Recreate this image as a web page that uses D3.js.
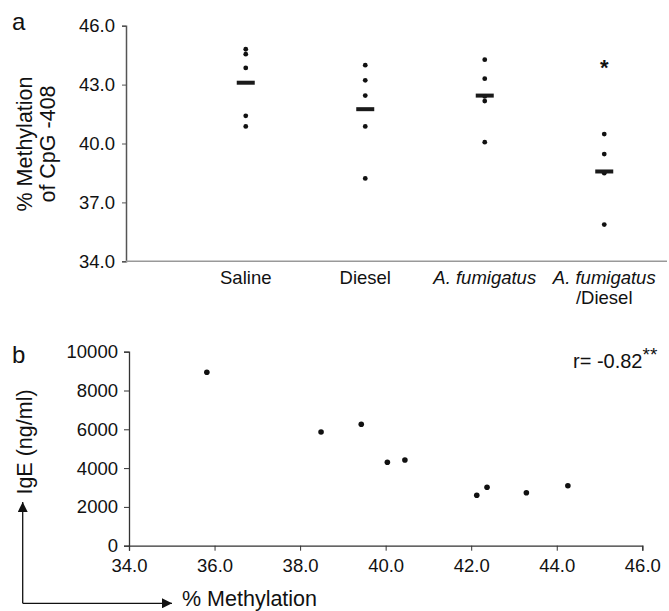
<!DOCTYPE html>
<html>
<head>
<meta charset="utf-8">
<script src="https://cdn.jsdelivr.net/npm/d3@7"></script>
<style>
  body { margin: 0; background: #fff; }
  svg { font-family: "Liberation Sans", Arial, sans-serif; display: block; }
</style>
</head>
<body>
<div id="chart"></div>
<script>
// panel a: % methylation of CpG -408 per treatment group
const groups = ['Saline', 'Diesel', 'A. fumigatus', 'A. fumigatus/Diesel'];
const saline = [44.80, 44.55, 43.85, 41.41, 40.87];
const diesel = [43.99, 43.22, 42.44, 40.87, 38.22];
const afum = [44.27, 43.30, 42.40, 42.16, 40.07];
const afumDiesel = [40.48, 39.46, 38.49, 35.87];
const methTicksA = [34, 37, 40, 43, 46];

// panel b: IgE vs % methylation
const methylation = [35.82, 38.49, 39.43, 40.04, 40.45, 42.13, 42.37, 43.29, 44.26];
const ige = [8940, 5860, 6260, 4300, 4420, 2600, 3010, 2730, 3090];
const igeTicks = [0, 2000, 4000, 6000, 8000, 10000];
const methTicksB = [34, 36, 38, 40, 42, 44, 46];

const groupValues = [saline, diesel, afum, afumDiesel];

const FONT = '"Liberation Sans", Arial, sans-serif';

const svg = d3.select('#chart').append('svg')
    .attr('width', 669)
    .attr('height', 611);

// ---------- panel a ----------
const aLeft = 126, aTop = 25.7, aBottom = 261.3;

const yA = d3.scaleLinear().domain([34, 46]).range([aBottom, aTop]);
const xA = d3.scaleBand().domain(groups).range([186, 664]).padding(0);

const gA = svg.append('g');

gA.append('g')
    .attr('transform', `translate(${aLeft},0)`)
    .call(d3.axisLeft(yA).tickValues(methTicksA).tickFormat(d3.format('.1f')).tickSizeOuter(0).tickSize(4).tickPadding(7))
    .call(g => g.select('.domain').attr('stroke', '#555').attr('stroke-width', 1.5))
    .call(g => g.selectAll('.tick line').attr('stroke', '#555'))
    .call(g => g.selectAll('.tick text').attr('font-size', 18.5).attr('fill', '#111').attr('font-family', FONT));

// x axis line (no ticks)
gA.append('line')
    .attr('x1', aLeft).attr('x2', 667)
    .attr('y1', aBottom).attr('y2', aBottom)
    .attr('stroke', '#999')
    .attr('stroke-width', 1.5);

// category labels
const catLabels = gA.selectAll('text.cat')
    .data(groups)
    .enter()
    .append('text')
    .attr('class', 'cat')
    .attr('x', d => xA(d) + xA.bandwidth() / 2)
    .attr('y', 284)
    .attr('text-anchor', 'middle')
    .attr('font-size', 18.5)
    .attr('fill', '#111');

catLabels.each(function(d) {
    const t = d3.select(this);
    if (d === 'Saline' || d === 'Diesel') {
        t.text(d);
    } else if (d === 'A. fumigatus') {
        t.append('tspan').attr('font-style', 'italic').text('A. fumigatus');
    } else {
        const cx = xA(d) + xA.bandwidth() / 2;
        t.append('tspan').attr('font-style', 'italic').text('A. fumigatus');
        t.append('tspan').attr('x', cx).attr('dy', 20).text('/Diesel');
    }
});

// individual points
groups.forEach((grp, gi) => {
    const cx = xA(grp) + xA.bandwidth() / 2;
    gA.selectAll(null)
        .data(groupValues[gi])
        .enter()
        .append('circle')
        .attr('cx', cx)
        .attr('cy', d => yA(d))
        .attr('r', 2.4)
        .attr('fill', '#111');

    // mean bar
    const m = d3.mean(groupValues[gi]);
    gA.append('rect')
        .attr('x', cx - 9)
        .attr('y', yA(m) - 2)
        .attr('width', 18)
        .attr('height', 4)
        .attr('fill', '#1a1a1a');
});

// significance asterisk over last group
gA.append('text')
    .attr('x', xA(groups[3]) + xA.bandwidth() / 2)
    .attr('y', 75)
    .attr('text-anchor', 'middle')
    .attr('font-size', 22)
    .attr('font-weight', 'bold')
    .attr('fill', '#111')
    .text('*');

// y title, two lines
const yTitleA = gA.append('text')
    .attr('transform', 'translate(0,144) rotate(-90)')
    .attr('text-anchor', 'middle')
    .attr('font-size', 21.5)
    .attr('fill', '#111');
yTitleA.append('tspan').attr('x', 0).attr('y', 32).text('% Methylation');
yTitleA.append('tspan').attr('x', 0).attr('y', 55).text('of CpG -408');

svg.append('text')
    .attr('x', 12).attr('y', 30)
    .attr('font-size', 24)
    .attr('fill', '#111')
    .text('a');

// ---------- panel b ----------
const bLeft = 129, bRight = 642.3, bTop = 351.7, bBottom = 545.7;

const xB = d3.scaleLinear().domain([34, 46]).range([bLeft, bRight]);
const yB = d3.scaleLinear().domain([0, 10000]).range([bBottom, bTop]);

const gB = svg.append('g');

gB.append('g')
    .attr('transform', `translate(${bLeft},0)`)
    .call(d3.axisLeft(yB).tickValues(igeTicks).tickFormat(d3.format('d')).tickSizeOuter(0).tickSize(5).tickPadding(6))
    .call(g => g.select('.domain').attr('stroke', '#333').attr('stroke-width', 1.3))
    .call(g => g.selectAll('.tick line').attr('stroke', '#333'))
    .call(g => g.selectAll('.tick text').attr('font-size', 18.5).attr('fill', '#111').attr('font-family', FONT));

gB.append('g')
    .attr('transform', `translate(0,${bBottom})`)
    .call(d3.axisBottom(xB).tickValues(methTicksB).tickFormat(d3.format('.1f')).tickSizeOuter(0).tickSize(5).tickPadding(8))
    .call(g => g.select('.domain').attr('stroke', '#333').attr('stroke-width', 1.3))
    .call(g => g.selectAll('.tick line').attr('stroke', '#333'))
    .call(g => g.selectAll('.tick text').attr('font-size', 18.5).attr('fill', '#111').attr('font-family', FONT));

gB.selectAll('circle')
    .data(methylation)
    .enter()
    .append('circle')
    .attr('cx', d => xB(d))
    .attr('cy', (d, i) => yB(ige[i]))
    .attr('r', 2.8)
    .attr('fill', '#111');

// correlation note
const rNote = gB.append('text')
    .attr('x', 573)
    .attr('y', 368)
    .attr('font-size', 20)
    .attr('fill', '#111');
rNote.append('tspan').text('r= -0.82');
rNote.append('tspan').attr('dy', -7).attr('font-size', 19).text('**');

svg.append('text')
    .attr('x', 12).attr('y', 363)
    .attr('font-size', 24)
    .attr('fill', '#111')
    .text('b');

// y title
gB.append('text')
    .attr('transform', 'translate(32,442) rotate(-90)')
    .attr('text-anchor', 'middle')
    .attr('font-size', 21.5)
    .attr('fill', '#111')
    .text('IgE (ng/ml)');

// arrows
svg.append('defs').append('marker')
    .attr('id', 'arrow')
    .attr('viewBox', '0 0 10 10')
    .attr('refX', 10)
    .attr('refY', 5)
    .attr('markerWidth', 11)
    .attr('markerHeight', 10)
    .attr('markerUnits', 'userSpaceOnUse')
    .attr('orient', 'auto')
    .append('polygon')
    .attr('points', '0,0 10,5 0,10')
    .attr('fill', '#111');

svg.append('path')
    .attr('d', 'M22.7,603.3 L22.7,502')
    .attr('stroke', '#111')
    .attr('stroke-width', 1.3)
    .attr('fill', 'none')
    .attr('marker-end', 'url(#arrow)');

svg.append('path')
    .attr('d', 'M22.7,603.3 L172,603.3')
    .attr('stroke', '#111')
    .attr('stroke-width', 1.3)
    .attr('fill', 'none')
    .attr('marker-end', 'url(#arrow)');

svg.append('text')
    .attr('x', 182)
    .attr('y', 606)
    .attr('font-size', 21.5)
    .attr('fill', '#111')
    .text('% Methylation');
</script>
</body>
</html>
